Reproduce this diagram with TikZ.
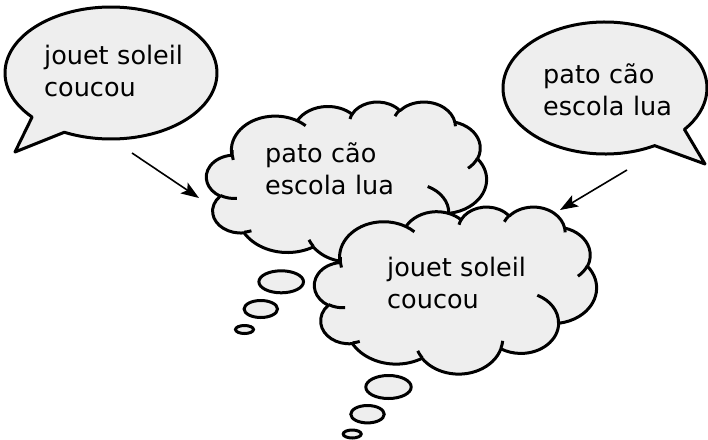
\documentclass[tikz,border=0pt]{standalone}
\usepackage{fontspec}
\setmainfont{DejaVu Sans}
\usetikzlibrary{arrows.meta}
\definecolor{shapefill}{HTML}{EEEEEE}
% OOXML-style arcTo: x radius, y radius, visual start angle, visual sweep
\newcommand\ooarc[4]{arc[x radius=#1, y radius=#2,
  start angle={atan2((#1)*sin(#3),(#2)*cos(#3))},
  delta angle={mod(atan2((#1)*sin((#3)+(#4)),(#2)*cos((#3)+(#4)))-atan2((#1)*sin(#3),(#2)*cos(#3))+720,360)}]}
\newcommand\cloudoutline{(9.028,33.264)
  \ooarc{15.632}{21.273}{-190.4875}{123.7805}
  \ooarc{12.345}{16.822}{-144.1024}{89.9452}
  \ooarc{10.104}{13.762}{-145.8079}{99.7230}
  \ooarc{11.243}{15.266}{-130.9861}{117.2417}
  \ooarc{12.345}{16.836}{-78.7089}{109.0269}
  \ooarc{15.683}{21.343}{-46.2673}{130.2690}
  \ooarc{13.391}{18.211}{0.6250}{114.0333}
  \ooarc{15.630}{21.331}{22.4516}{115.1726}
  \ooarc{17.870}{24.405}{66.2426}{75.7110}
  \ooarc{10.093}{13.699}{-274.9421}{146.7356}
  \ooarc{10.058}{13.762}{-246.8285}{152.5189} -- cycle}
\newcommand\cloudhooks{
  (10.863,60.595) \ooarc{10.058}{13.762}{86.7420}{26.4295}
  (16.037,80.785) \ooarc{10.093}{13.699}{73.6105}{11.4475}
  (38.144,90.486) \ooarc{15.630}{21.331}{137.6242}{14.0811}
  (66.729,80.442) \ooarc{15.630}{21.331}{6.4533}{15.9984}
  (79.002,53.134) \ooarc{13.391}{18.211}{-70.2924}{70.9174}
  (96.755,35.542) \ooarc{12.345}{16.836}{30.3180}{27.7515}
  (88.713,12.560) \ooarc{11.243}{15.266}{-13.7443}{14.8589}
  (67.310,9.148)  \ooarc{11.243}{15.266}{-149.1815}{18.1954}
  (51.252,10.926) \ooarc{10.104}{13.762}{-163.4943}{17.6864}
  (32.407,12.019) \ooarc{15.632}{21.273}{-66.7070}{12.3194}
  (9.553,36.549)  \ooarc{15.632}{21.273}{162.0353}{22.5851}}
\newcommand\drawcloud[4]{%
  \begin{scope}[shift={(#1,#2)}, xscale=#3/100, yscale=#4/100]
    \filldraw[outline] \cloudoutline;
    \draw[outline] \cloudhooks;
  \end{scope}}
\begin{document}
\begin{tikzpicture}[x=1pt, y=-1pt,
  outline/.style={draw=black, fill=shapefill, line width=3pt, line join=round},
  thought/.style={draw=black, fill=shapefill, line width=3pt},
  arr/.style={-{Stealth[length=18pt, width=13pt, inset=4pt]}, line width=1.6pt},
  lbl/.style={anchor=base west, inner sep=0pt, text width=220pt, align=left,
    font=\fontsize{25.5}{32}\selectfont}]
\useasboundingbox (0,0) rectangle (708,439);

% speech bubbles
\coordinate (cL) at (111,73);
\coordinate (tipL) at (15,152);
\filldraw[outline] ([shift={(138.11:106 and 66)}]cL)
  arc[start angle=138.11, end angle=476.11, x radius=106, y radius=66]
  -- (tipL) -- cycle;
\node[lbl] (tL) at (44,64) {jouet soleil\\coucou};

\coordinate (cR) at (605,88);
\coordinate (tipR) at (705,164);
\filldraw[outline] ([shift={(60.86:102 and 66)}]cR)
  arc[start angle=60.86, end angle=398.86, x radius=102, y radius=66]
  -- (tipR) -- cycle;
\node[lbl] (tR) at (543,83) {pato cão\\escola lua};

% cloud 1
\drawcloud{206.5}{101.5}{280}{160}
\draw[thought] (281.2,281.8) ellipse[x radius=22.3, y radius=11];
\draw[thought] (260.8,309) ellipse[x radius=16.7, y radius=8.5];
\draw[thought] (244.5,329.5) ellipse[x radius=9, y radius=4];
\node[lbl] (tC1) at (265,162) {pato cão\\escola lua};

% cloud 2
\drawcloud{314.5}{206.5}{282}{167}
\draw[thought] (388.5,387) ellipse[x radius=22.7, y radius=11.5];
\draw[thought] (367.5,414.2) ellipse[x radius=16.7, y radius=8.7];
\draw[thought] (352.2,434) ellipse[x radius=9, y radius=4];
\node[lbl] (tC2) at (387,276) {jouet soleil\\coucou};

% arrows
\coordinate (a1s) at (132,153);
\coordinate (a1e) at (199,198);
\coordinate (a2s) at (627,170);
\coordinate (a2e) at (560,210);
\draw[arr] (a1s) -- (a1e);
\draw[arr] (a2s) -- (a2e);
\end{tikzpicture}
\end{document}
